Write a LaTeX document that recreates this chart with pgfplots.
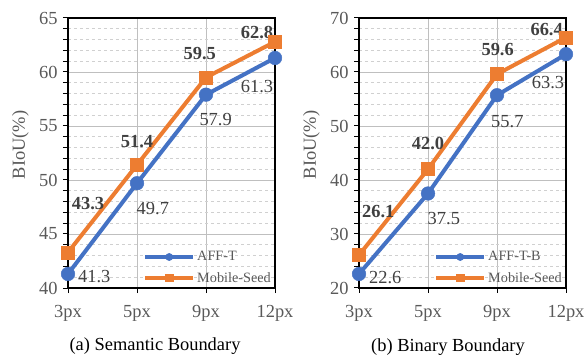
\documentclass[border=0pt]{standalone}
\usepackage{fontspec}
\setmainfont{Liberation Serif}
\usepackage{pgfplots}
\pgfplotsset{compat=1.18}
\definecolor{cblue}{HTML}{4472C4}
\definecolor{corange}{HTML}{ED7D31}
\definecolor{tickgray}{HTML}{595959}
\definecolor{lblgray}{HTML}{404040}
\definecolor{majgrid}{HTML}{BFBFBF}
\definecolor{mingrid}{HTML}{D0D0D0}
\newcommand{\fs}{\fontsize{18.5}{20}\selectfont}
\tikzset{
  mlab/.style={font=\fs\bfseries, text=lblgray, inner sep=0pt},
  alab/.style={font=\fs, text=lblgray, inner sep=0pt},
}
\pgfplotsset{
  mystyle/.style={
    scale only axis, width=207bp, height=270bp,
    xmin=0, xmax=3, xtick={0,1,2,3},
    xticklabels={3px,5px,9px,12px},
    clip=false,
    axis line style={black, line width=1.1bp},
    tick align=outside, xtick pos=bottom, ytick pos=left,
    major tick length=5bp, minor tick length=5bp,
    tick style={black, line width=1bp},
    xmajorgrids, ymajorgrids, yminorgrids,
    major grid style={majgrid, line width=0.9bp},
    minor grid style={mingrid, dashed, line width=0.8bp},
    minor y tick num=4,
    tick label style={font=\fs, color=tickgray},
    xticklabel style={yshift=-9bp},
    yticklabel style={xshift=-2bp},
    /pgf/number format/assume math mode=true,
    ylabel={BIoU(\%)},
    every axis y label/.style={at={(axis description cs:-0.23,0.53)}, rotate=90, anchor=center, font=\fs, color=tickgray},
    legend style={at={(1,0)}, anchor=south east, draw=none, fill=none,
      font=\fontsize{14.3}{15}\selectfont, text=tickgray, row sep=6bp, inner sep=2bp, xshift=0bp, yshift=0bp},
    legend cell align=left,
    legend image code/.code={\draw[mark repeat=2,mark phase=2,mark size=3.6bp] plot coordinates {(0bp,0bp) (24bp,0bp) (48bp,0bp)};},
  },
  aff/.style={cblue, line width=4bp, mark=*, mark size=6.8bp, mark options={solid, fill=cblue, draw=cblue, line width=0.5bp}},
  mob/.style={corange, line width=4bp, mark=square*, mark size=6.5bp, mark options={solid, fill=corange, draw=corange, line width=0.5bp}},
}
\begin{document}
\begin{tikzpicture}
\useasboundingbox (0,0) rectangle (587bp,356bp);
\begin{axis}[mystyle, at={(68bp,68bp)}, anchor=south west,
  ymin=40, ymax=65, ytick={40,45,50,55,60,65}]
\addplot[aff] coordinates {(0,41.3) (1,49.7) (2,57.9) (3,61.3)};
\addlegendentry{AFF-T}
\addplot[mob] coordinates {(0,43.3) (1,51.4) (2,59.5) (3,62.8)};
\addlegendentry{Mobile-Seed}
\node[mlab] at (axis cs:0.29,47.8) {43.3};
\node[mlab] at (axis cs:1.0,53.55) {51.4};
\node[mlab] at (axis cs:1.91,61.73) {59.5};
\node[mlab] at (axis cs:2.74,63.64) {62.8};
\node[alab] at (axis cs:0.38,41.05) {41.3};
\node[alab] at (axis cs:1.23,47.38) {49.7};
\node[alab] at (axis cs:2.14,55.56) {57.9};
\node[alab] at (axis cs:2.74,58.67) {61.3};
\end{axis}
\begin{axis}[mystyle, at={(359bp,68bp)}, anchor=south west,
  ymin=20, ymax=70, ytick={20,30,40,50,60,70}]
\addplot[aff] coordinates {(0,22.6) (1,37.5) (2,55.7) (3,63.3)};
\addlegendentry{AFF-T-B}
\addplot[mob] coordinates {(0,26.1) (1,42.0) (2,59.6) (3,66.4)};
\addlegendentry{Mobile-Seed}
\node[mlab] at (axis cs:0.28,34.1) {26.1};
\node[mlab] at (axis cs:1.0,46.8) {42.0};
\node[mlab] at (axis cs:2.01,64.2) {59.6};
\node[mlab] at (axis cs:2.72,67.8) {66.4};
\node[alab] at (axis cs:0.38,22.0) {22.6};
\node[alab] at (axis cs:1.23,32.9) {37.5};
\node[alab] at (axis cs:2.15,50.8) {55.7};
\node[alab] at (axis cs:2.74,58.0) {63.3};
\end{axis}
\node[font=\fs, text=black] at (155bp,10bp) {(a) Semantic Boundary};
\node[font=\fs, text=black] at (448bp,9bp) {(b) Binary Boundary};
\end{tikzpicture}
\end{document}
